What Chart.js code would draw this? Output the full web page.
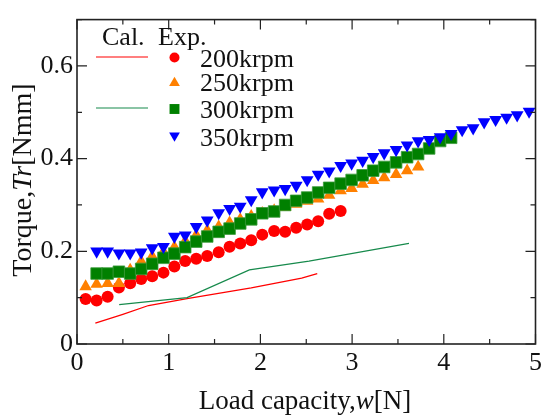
<!DOCTYPE html>
<html>
<head>
<meta charset="utf-8">
<script src="https://cdn.jsdelivr.net/npm/chart.js@4/dist/chart.umd.min.js"></script>
<style>
  html, body { margin: 0; padding: 0; background: #fff; }
  #wrap { width: 546px; height: 417px; }
</style>
</head>
<body>
<div id="wrap"><canvas id="torqueChart" width="546" height="417"></canvas></div>
<script>
// Measured torque vs. load capacity at each rotor speed
const load200 = [0.094, 0.214, 0.334, 0.457, 0.58, 0.70, 0.82, 0.943, 1.062, 1.18, 1.30, 1.42, 1.545, 1.664, 1.78, 1.90, 2.02, 2.15, 2.27, 2.39, 2.51, 2.63, 2.75, 2.875];
const torque200 = [0.097, 0.094, 0.102, 0.122, 0.131, 0.140, 0.146, 0.154, 0.167, 0.179, 0.184, 0.190, 0.198, 0.210, 0.217, 0.224, 0.236, 0.244, 0.242, 0.251, 0.258, 0.265, 0.281, 0.287];

const load250 = [0.094, 0.214, 0.334, 0.457, 0.58, 0.70, 0.82, 0.943, 1.062, 1.18, 1.30, 1.42, 1.545, 1.664, 1.78, 1.90, 2.02, 2.15, 2.27, 2.39, 2.51, 2.63, 2.75, 2.875, 2.995, 3.115, 3.23, 3.35, 3.48, 3.60, 3.72];
const torque250 = [0.124, 0.129, 0.131, 0.131, 0.160, 0.178, 0.189, 0.199, 0.209, 0.222, 0.235, 0.245, 0.253, 0.262, 0.269, 0.276, 0.282, 0.288, 0.295, 0.302, 0.308, 0.313, 0.321, 0.331, 0.336, 0.345, 0.353, 0.359, 0.366, 0.374, 0.382];

const load300 = [0.214, 0.334, 0.457, 0.58, 0.70, 0.82, 0.943, 1.062, 1.18, 1.30, 1.42, 1.545, 1.664, 1.78, 1.90, 2.02, 2.15, 2.27, 2.39, 2.51, 2.63, 2.75, 2.875, 2.995, 3.115, 3.23, 3.35, 3.48, 3.60, 3.72, 3.84, 3.96, 4.08];
const torque300 = [0.152, 0.152, 0.156, 0.152, 0.162, 0.173, 0.186, 0.195, 0.209, 0.221, 0.232, 0.242, 0.249, 0.260, 0.269, 0.282, 0.286, 0.300, 0.309, 0.316, 0.327, 0.337, 0.346, 0.354, 0.364, 0.374, 0.382, 0.392, 0.403, 0.410, 0.422, 0.438, 0.445];

const load350 = [0.214, 0.334, 0.457, 0.58, 0.70, 0.82, 0.943, 1.062, 1.18, 1.30, 1.42, 1.545, 1.664, 1.78, 1.90, 2.02, 2.15, 2.27, 2.39, 2.51, 2.63, 2.75, 2.875, 2.995, 3.115, 3.23, 3.35, 3.48, 3.60, 3.72, 3.84, 3.96, 4.08, 4.20, 4.32, 4.44, 4.565, 4.685, 4.80, 4.93];
const torque350 = [0.200, 0.200, 0.196, 0.196, 0.198, 0.207, 0.210, 0.232, 0.235, 0.253, 0.267, 0.283, 0.292, 0.297, 0.311, 0.328, 0.332, 0.335, 0.342, 0.354, 0.366, 0.373, 0.385, 0.390, 0.396, 0.404, 0.412, 0.419, 0.429, 0.438, 0.441, 0.447, 0.454, 0.462, 0.466, 0.479, 0.484, 0.489, 0.494, 0.502];

// Calculated curves
const calLoad200 = [0.2, 0.5, 0.78, 1.2, 1.9, 2.45, 2.62];
const calTorque200 = [0.045, 0.064, 0.083, 0.098, 0.121, 0.142, 0.152];
const calLoad300 = [0.46, 1.2, 1.88, 2.53, 3.62];
const calTorque300 = [0.085, 0.100, 0.160, 0.179, 0.217];

const speedLabels = ['200krpm', '250krpm', '300krpm', '350krpm'];
const xTitle = ['Load capacity,', 'w', '[N]'];
const yTitle = ['Torque,', 'Tr', '[Nmm]'];

const RED = '#ff0000';
const ORANGE = '#ff8000';
const GREEN = '#008000';
const BLUE = '#0000ff';
const CAL_GREEN = '#178a4c';
const FONT = '"Liberation Serif", serif';

function pairs(xs, ys) {
    return xs.map((x, i) => ({ x: x, y: ys[i] }));
}

// Marker shapes for the legend, same geometry Chart.js uses
function drawMarker(ctx, style, x, y, r, color, rot) {
    ctx.save();
    ctx.fillStyle = color;
    ctx.beginPath();
    if (style === 'circle') {
        ctx.arc(x, y, r, 0, Math.PI * 2);
    } else if (style === 'rect') {
        const s = Math.SQRT1_2 * r;
        ctx.rect(x - s, y - s, 2 * s, 2 * s);
    } else {
        let a = rot ? Math.PI : 0;
        ctx.moveTo(x + Math.sin(a) * r, y - Math.cos(a) * r);
        a += 2 * Math.PI / 3;
        ctx.lineTo(x + Math.sin(a) * r, y - Math.cos(a) * r);
        a += 2 * Math.PI / 3;
        ctx.lineTo(x + Math.sin(a) * r, y - Math.cos(a) * r);
        ctx.closePath();
    }
    ctx.fill();
    ctx.restore();
}

// Title text with the middle part (the symbol) in italics
function drawMixed(ctx, parts, x, y, size) {
    const fonts = [size + 'px ' + FONT, 'italic ' + size + 'px ' + FONT, size + 'px ' + FONT];
    let total = 0;
    parts.forEach((p, i) => { ctx.font = fonts[i]; total += ctx.measureText(p).width; });
    let cx = x - total / 2;
    parts.forEach((p, i) => {
        ctx.font = fonts[i];
        ctx.fillText(p, cx, y);
        cx += ctx.measureText(p).width;
    });
}

const isMajor = (v, step) => Math.abs(v / step - Math.round(v / step)) < 1e-6;

// Box frame with inward ticks on all four sides
const framePlugin = {
    id: 'frame',
    afterDraw(chart) {
        const ctx = chart.ctx;
        const a = chart.chartArea;
        const xs = chart.scales.x, ys = chart.scales.y;
        ctx.save();
        ctx.strokeStyle = '#222';
        ctx.lineWidth = 1.2;
        ctx.beginPath();
        xs.ticks.forEach(t => {
            const px = xs.getPixelForValue(t.value);
            const len = isMajor(t.value, 1) ? 10 : 5;
            ctx.moveTo(px, a.bottom); ctx.lineTo(px, a.bottom - len);
            ctx.moveTo(px, a.top); ctx.lineTo(px, a.top + len);
        });
        ys.ticks.forEach(t => {
            const py = ys.getPixelForValue(t.value);
            const len = isMajor(t.value, 0.2) ? 10 : 5;
            ctx.moveTo(a.left, py); ctx.lineTo(a.left + len, py);
            ctx.moveTo(a.right, py); ctx.lineTo(a.right - len, py);
        });
        ctx.stroke();
        ctx.lineWidth = 1.6;
        ctx.strokeRect(a.left, a.top, a.right - a.left, a.bottom - a.top);
        ctx.restore();
    }
};

// Axis titles with italic symbols
const titlePlugin = {
    id: 'titles',
    afterDraw(chart) {
        const ctx = chart.ctx;
        ctx.save();
        ctx.fillStyle = '#111';
        ctx.textBaseline = 'alphabetic';
        drawMixed(ctx, xTitle, 305, 409, 27);
        ctx.translate(31, 180);
        ctx.rotate(-Math.PI / 2);
        drawMixed(ctx, yTitle, 0, 0, 28);
        ctx.restore();
    }
};

// Two-column legend: calculated lines and experimental markers
const legendPlugin = {
    id: 'calExpLegend',
    afterDraw(chart) {
        const ctx = chart.ctx;
        ctx.save();
        ctx.fillStyle = '#111';
        ctx.font = '26px ' + FONT;
        ctx.textBaseline = 'alphabetic';
        ctx.fillText('Cal.', 102, 45);
        ctx.fillText('Exp.', 158, 45);

        ctx.lineWidth = 1.2;
        ctx.strokeStyle = RED;
        ctx.beginPath(); ctx.moveTo(96, 57); ctx.lineTo(148, 57); ctx.stroke();
        ctx.strokeStyle = CAL_GREEN;
        ctx.beginPath(); ctx.moveTo(96, 108); ctx.lineTo(148, 108); ctx.stroke();

        const rows = [57.5, 82, 109, 136.5];
        drawMarker(ctx, 'circle', 174.5, rows[0], 5, RED);
        drawMarker(ctx, 'triangle', 174.5, rows[1] + 1, 6.2, ORANGE);
        drawMarker(ctx, 'rect', 174.5, rows[2], 7, GREEN);
        drawMarker(ctx, 'triangle', 174.5, rows[3] - 1, 6.2, BLUE, true);

        ctx.fillStyle = '#111';
        speedLabels.forEach((s, i) => ctx.fillText(s, 200, rows[i] + 9));
        ctx.restore();
    }
};

function initChart() {
    const ctx = document.getElementById('torqueChart').getContext('2d');
    new Chart(ctx, {
        type: 'scatter',
        data: {
            datasets: [
                {
                    label: 'Cal. 200krpm', data: pairs(calLoad200, calTorque200),
                    showLine: true, pointRadius: 0, borderColor: RED, borderWidth: 1.2, order: 6
                },
                {
                    label: 'Cal. 300krpm', data: pairs(calLoad300, calTorque300),
                    showLine: true, pointRadius: 0, borderColor: CAL_GREEN, borderWidth: 1.2, order: 5
                },
                {
                    label: speedLabels[0], data: pairs(load200, torque200),
                    pointStyle: 'circle', pointRadius: 6, backgroundColor: RED, borderColor: RED, borderWidth: 0, order: 3
                },
                {
                    label: speedLabels[1], data: pairs(load250, torque250),
                    pointStyle: 'triangle', pointRadius: 7.2, backgroundColor: ORANGE, borderColor: ORANGE, borderWidth: 0, order: 2
                },
                {
                    label: speedLabels[2], data: pairs(load300, torque300),
                    pointStyle: 'rect', pointRadius: 8.2, backgroundColor: GREEN, borderColor: '#3a9a3a', borderWidth: 0.8, order: 1
                },
                {
                    label: speedLabels[3], data: pairs(load350, torque350),
                    pointStyle: 'triangle', rotation: 180, pointRadius: 7.4, backgroundColor: BLUE, borderColor: BLUE, borderWidth: 0, order: 0
                }
            ]
        },
        options: {
            responsive: false,
            animation: false,
            layout: { padding: { top: 12, right: 7, left: 0, bottom: 0 } },
            plugins: { legend: { display: false }, tooltip: { enabled: false } },
            scales: {
                x: {
                    type: 'linear', min: 0, max: 5,
                    grid: { display: false, drawTicks: false },
                    border: { display: false },
                    afterFit: s => { s.height = 73; },
                    ticks: {
                        stepSize: 0.5, padding: 4, color: '#111', maxRotation: 0,
                        font: { family: FONT, size: 26 },
                        callback: v => isMajor(v, 1) ? String(Math.round(v)) : ''
                    }
                },
                y: {
                    type: 'linear', min: 0, max: 0.7,
                    grid: { display: false, drawTicks: false },
                    border: { display: false },
                    afterFit: s => { s.width = 77; },
                    ticks: {
                        stepSize: 0.1, padding: 4, color: '#111',
                        font: { family: FONT, size: 26 },
                        callback: v => isMajor(v, 0.2) ? String(Math.round(v * 10) / 10) : ''
                    }
                }
            }
        },
        plugins: [framePlugin, titlePlugin, legendPlugin]
    });
}

// Make sure the serif faces are ready before the canvas draws text
document.addEventListener('DOMContentLoaded', function () {
    Promise.all([
        document.fonts.load('26px "Liberation Serif"'),
        document.fonts.load('italic 26px "Liberation Serif"')
    ]).then(initChart, initChart);
});
</script>
</body>
</html>
